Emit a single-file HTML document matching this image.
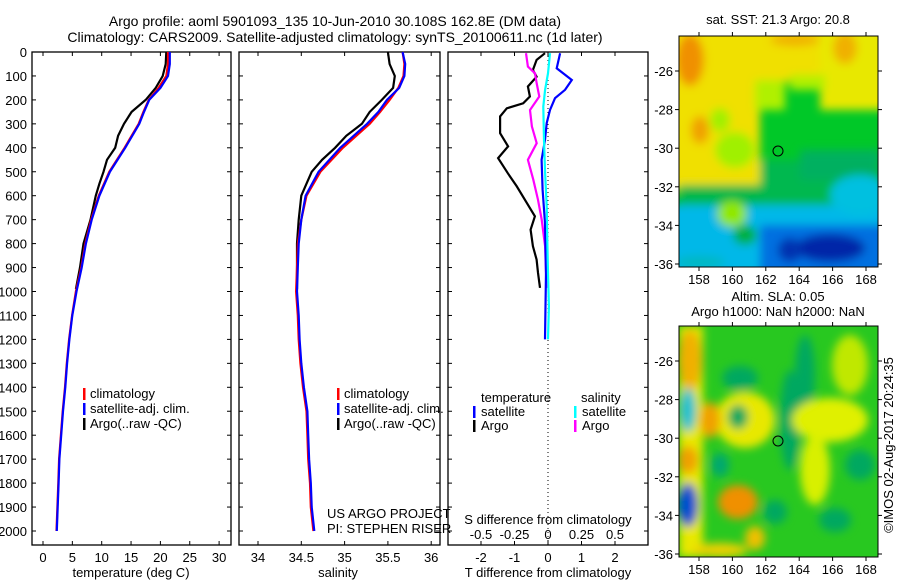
<!DOCTYPE html>
<html><head><meta charset="utf-8"><style>
html,body{margin:0;padding:0;background:#fff;}
svg{display:block;font-family:"Liberation Sans",sans-serif;}
text{fill:#000;}
</style></head><body>
<svg id="fig" width="900" height="580" viewBox="0 0 900 580">
<defs>
<filter id="bl" x="-20%" y="-20%" width="140%" height="140%"><feGaussianBlur stdDeviation="4.5"/></filter>
<clipPath id="c1"><rect x="679" y="36" width="199" height="231"/></clipPath>
<clipPath id="c2"><rect x="679" y="326" width="199" height="231"/></clipPath>
</defs>
<text x="335" y="26" font-size="14" text-anchor="middle">Argo profile: aoml 5901093_135 10-Jun-2010 30.108S 162.8E (DM data)</text>
<text x="335" y="42" font-size="14" text-anchor="middle">Climatology: CARS2009. Satellite-adjusted climatology: synTS_20100611.nc (1d later)</text>

<g id="p1"></g>
<g id="p2"></g>
<g id="p3"></g>

<g>
<g clip-path="url(#c1)">
<rect x="679" y="36" width="199" height="231" fill="#00c828"/>
<g filter="url(#bl)">
<rect x="660" y="20" width="240" height="62" fill="#f0e000"/>
<rect x="820" y="20" width="80" height="90" fill="#e8e800"/>
<rect x="660" y="20" width="100" height="170" fill="#f0e000"/>
<rect x="755" y="80" width="30" height="30" fill="#b0f000"/>
<rect x="790" y="75" width="35" height="15" fill="#b0f000"/>
<ellipse cx="690" cy="60" rx="14" ry="26" fill="#f09000"/>
<ellipse cx="845" cy="48" rx="12" ry="16" fill="#f0b000"/>
<ellipse cx="700" cy="130" rx="9" ry="14" fill="#f0a000"/>
<ellipse cx="795" cy="40" rx="25" ry="6" fill="#f0b000"/>
<ellipse cx="735" cy="150" rx="20" ry="18" fill="#a0f000"/>
<ellipse cx="720" cy="120" rx="10" ry="12" fill="#a0f000"/>
<rect x="679" y="185" width="100" height="25" fill="#00b848"/>
<rect x="760" y="160" width="120" height="50" fill="#00b850"/>
<rect x="800" y="150" width="80" height="30" fill="#00b060"/>
<rect x="660" y="205" width="240" height="80" fill="#00b8e8"/>
<ellipse cx="860" cy="195" rx="30" ry="20" fill="#00c0e0"/>
<ellipse cx="732" cy="214" rx="15" ry="13" fill="#90e800"/>
<ellipse cx="745" cy="235" rx="12" ry="10" fill="#00b040"/>
<rect x="760" y="225" width="140" height="60" fill="#0070e0"/>
<ellipse cx="830" cy="248" rx="35" ry="14" fill="#0028a8"/>
<ellipse cx="790" cy="250" rx="12" ry="12" fill="#0030b0"/>
<ellipse cx="700" cy="262" rx="25" ry="6" fill="#00b8c0"/>
</g>
</g>
<rect x="679" y="36" width="199" height="231" fill="none" stroke="#000" stroke-width="1"/>
<circle cx="778" cy="151" r="5" fill="none" stroke="#000"/>
</g>

<g>
<g clip-path="url(#c2)">
<rect x="679" y="326" width="199" height="231" fill="#28c820"/>
<g filter="url(#bl)">
<rect x="679" y="326" width="24" height="231" fill="#e8e800"/>
<ellipse cx="690" cy="360" rx="12" ry="30" fill="#f0b000"/>
<ellipse cx="740" cy="378" rx="18" ry="12" fill="#00a860"/>
<ellipse cx="805" cy="375" rx="10" ry="40" fill="#00a860"/>
<ellipse cx="850" cy="365" rx="18" ry="30" fill="#c0e800"/>
<ellipse cx="688" cy="410" rx="8" ry="22" fill="#00c0d0"/>
<ellipse cx="745" cy="420" rx="30" ry="28" fill="#e8e800"/>
<ellipse cx="710" cy="420" rx="10" ry="18" fill="#f0a000"/>
<ellipse cx="738" cy="417" rx="10" ry="12" fill="#00a860"/>
<ellipse cx="790" cy="420" rx="10" ry="50" fill="#00a860"/>
<ellipse cx="830" cy="420" rx="38" ry="22" fill="#e0f000"/>
<ellipse cx="815" cy="470" rx="15" ry="35" fill="#d8f000"/>
<ellipse cx="688" cy="460" rx="10" ry="14" fill="#f0a000"/>
<ellipse cx="720" cy="465" rx="9" ry="12" fill="#00a870"/>
<ellipse cx="860" cy="465" rx="15" ry="15" fill="#00a860"/>
<ellipse cx="688" cy="505" rx="10" ry="22" fill="#0050d0"/>
<ellipse cx="738" cy="502" rx="20" ry="17" fill="#f09000"/>
<ellipse cx="775" cy="512" rx="12" ry="12" fill="#00a860"/>
<ellipse cx="755" cy="538" rx="10" ry="12" fill="#f0c000"/>
<ellipse cx="835" cy="520" rx="16" ry="12" fill="#00a860"/>
<ellipse cx="720" cy="550" rx="28" ry="7" fill="#f0d000"/>
</g>
</g>
<rect x="679" y="326" width="199" height="231" fill="none" stroke="#000" stroke-width="1"/>
<circle cx="778" cy="441" r="5" fill="none" stroke="#000"/>
</g>

<text x="778" y="24" font-size="13" text-anchor="middle">sat. SST: 21.3 Argo: 20.8</text>
<text x="778" y="301" font-size="13" text-anchor="middle">Altim. SLA: 0.05</text>
<text x="778" y="316" font-size="13" text-anchor="middle">Argo h1000: NaN h2000: NaN</text>
<text transform="translate(893,445) rotate(-90)" font-size="13" text-anchor="middle">©IMOS 02-Aug-2017 20:24:35</text>
</svg>
<script>
// ---- data ----
var depthTicks=[0,100,200,300,400,500,600,700,800,900,1000,1100,1200,1300,1400,1500,1600,1700,1800,1900,2000];
var tempTicks=[0,5,10,15,20,25,30];
var salTicks=[34,34.5,35,35.5,36];
var tdiffTicks=[-2,-1,0,1,2];
var sdiffTicks=[-0.5,-0.25,0,0.25,0.5];
var sdiffLabels=["-0.5","-0.25","0","0.25","0.5"];
var mapLatTicks=[-26,-28,-30,-32,-34,-36];
var mapLonTicks=[158,160,162,164,166,168];

var satDepth=[0,50,100,150,200,250,300,400,500,600,700,800,900,1000,1100,1200,1300,1400,1500,1600,1700,1800,1900,2000];
var satTemp=[21.6,21.6,21.3,20.0,18.1,17.2,16.4,14.0,11.4,9.6,8.3,7.3,6.6,5.7,5.0,4.5,4.1,3.8,3.4,3.1,2.8,2.65,2.5,2.35];
var climTemp=[21.3,21.3,21.0,19.7,18.0,17.1,16.3,13.9,11.3,9.5,8.2,7.2,6.5,5.6,4.95,4.45,4.05,3.75,3.35,3.05,2.75,2.6,2.45,2.3];
var argoDepth=[0,50,100,150,200,250,300,350,400,450,500,550,600,700,800,900,990];
var argoTemp=[21.0,20.9,20.4,19.2,17.5,15.1,13.8,12.8,12.3,10.9,10.3,9.6,9.0,8.1,6.9,6.3,5.6];

var satSal=[35.67,35.70,35.69,35.63,35.49,35.39,35.26,34.95,34.70,34.55,34.50,34.47,34.46,34.45,34.47,34.48,34.50,34.53,34.57,34.58,34.59,34.61,34.62,34.65];
var climSal=[35.67,35.69,35.68,35.62,35.52,35.41,35.29,34.98,34.72,34.56,34.50,34.46,34.45,34.44,34.46,34.47,34.49,34.52,34.56,34.57,34.58,34.60,34.61,34.64];
var argoSal=[35.50,35.52,35.58,35.56,35.43,35.29,35.20,35.02,34.89,34.74,34.62,34.56,34.50,34.47,34.45,34.45,34.45];

var tdArgoDepth=[5,33,75,103,144,186,214,235,269,339,394,443,506,561,631,686,742,811,867,922,985];
var tdArgo=[-0.09,-0.34,-0.45,-0.34,-0.6,-0.54,-0.74,-1.23,-1.43,-1.43,-1.19,-1.49,-1.2,-0.93,-0.63,-0.39,-0.52,-0.45,-0.34,-0.3,-0.24];
var tdSatDepth=[5,68,89,117,158,193,242,297,367,450,575,714,922,1200];
var tdSat=[0.36,0.26,0.45,0.71,0.51,0.21,0.06,-0.04,-0.09,-0.19,-0.16,-0.09,-0.06,-0.09];
var sdArgoDepth=[5,61,89,131,186,242,311,381,450,533,617,700,811,922,985];
var sdArgo=[-0.164,-0.15,-0.097,-0.084,-0.065,-0.134,-0.12,-0.084,-0.15,-0.11,-0.075,-0.047,-0.022,-0.015,-0.01];
var sdSatDepth=[5,89,158,228,367,506,644,783,922,1061,1200];
var sdSat=[0.015,0,-0.022,-0.035,-0.03,-0.022,-0.01,-0.005,0,0.007,0];

// ---- axes ----
var NS="http://www.w3.org/2000/svg";
var TOP=52,BOT=545;
function yD(d){return TOP+d*0.2395;}
function xT(t){return 43+t*5.87;}
function xS(s){return 258+(s-34)*86.6;}
function xTD(t){return 548+t*33.5;}
function xSD(s){return 548+s*134;}
function el(tag,attrs,parent){var e=document.createElementNS(NS,tag);for(var k in attrs)e.setAttribute(k,attrs[k]);parent.appendChild(e);return e;}
function txt(parent,x,y,s,anchor,size){var t=el('text',{x:x,y:y,'font-size':size||13,'text-anchor':anchor||'middle'},parent);t.textContent=s;return t;}
function line(parent,xs,ys,color,w,dash){var p='';for(var i=0;i<xs.length;i++)p+=(i?'L':'M')+xs[i].toFixed(1)+' '+ys[i].toFixed(1);var a={d:p,fill:'none',stroke:color,'stroke-width':w||2};if(dash)a['stroke-dasharray']=dash;return el('path',a,parent);}
function box(parent,x0,x1){el('rect',{x:x0,y:TOP,width:x1-x0,height:BOT-TOP,fill:'none',stroke:'#000','stroke-width':1.3},parent);
 depthTicks.forEach(function(d){var y=yD(d);el('line',{x1:x0,x2:x0+4,y1:y,y2:y,stroke:'#000'},parent);el('line',{x1:x1-4,x2:x1,y1:y,y2:y,stroke:'#000'},parent);});}
function xticks(parent,xs){xs.forEach(function(x){el('line',{x1:x,x2:x,y1:TOP,y2:TOP+4,stroke:'#000'},parent);el('line',{x1:x,x2:x,y1:BOT-4,y2:BOT,stroke:'#000'},parent);});}
function legend(parent,x,items){items.forEach(function(it,i){var y=398+i*15;
 var b=el('rect',{x:x,y:y-10,width:2.5,height:12,fill:it[0]},parent);
 
 
 txt(parent,x+7,y,it[1],'start',13);});}

// panel 1
var p1=document.getElementById('p1');
box(p1,32,231);
xticks(p1,tempTicks.map(xT));
depthTicks.forEach(function(d){var t=txt(p1,27,yD(d)+5,String(d),'end',13);});
tempTicks.forEach(function(t){var e=txt(p1,xT(t),562,String(t),'middle',13);});
var xl1=txt(p1,131,577,'temperature (deg C)','middle',13);
var a1=line(p1,argoTemp.map(xT),argoDepth.map(yD),'#000',2.2);
var c1=line(p1,climTemp.map(xT),satDepth.map(yD),'#f00',2.2);
var s1=line(p1,satTemp.map(xT),satDepth.map(yD),'#00f',2.2);
legend(p1,83,[['#f00','climatology'],['#00f','satellite-adj. clim.'],['#000','Argo(..raw -QC)']]);

// panel 2
var p2=document.getElementById('p2');
box(p2,239,440);
xticks(p2,salTicks.map(xS));
salTicks.forEach(function(s){var e=txt(p2,xS(s),562,String(s),'middle',13);});
var xl2=txt(p2,338,577,'salinity','middle',13);
var a2=line(p2,argoSal.map(xS),argoDepth.map(yD),'#000',2.2);
var c2=line(p2,climSal.map(xS),satDepth.map(yD),'#f00',2.2);
var s2=line(p2,satSal.map(xS),satDepth.map(yD),'#00f',2.2);
legend(p2,337,[['#f00','climatology'],['#00f','satellite-adj. clim.'],['#000','Argo(..raw -QC)']]);
var pr1=txt(p2,327,518,'US ARGO PROJECT','start',13);
var pr2=txt(p2,327,533,'PI: STEPHEN RISER','start',13);

// panel 3
var p3=document.getElementById('p3');
box(p3,448,648);
xticks(p3,tdiffTicks.map(xTD));
var z=el('line',{x1:548,x2:548,y1:TOP,y2:BOT,stroke:'#000','stroke-dasharray':'1 3'},p3);

var l1=line(p3,tdArgo.map(xTD),tdArgoDepth.map(yD),'#000',2.2);
var l2=line(p3,sdArgo.map(xSD),sdArgoDepth.map(yD),'#f0f',2.2);
var l3=line(p3,tdSat.map(xTD),tdSatDepth.map(yD),'#00f',2.2);
var l4=line(p3,sdSat.map(xSD),sdSatDepth.map(yD),'#0ff',2.2);
txt(p3,481,402,'temperature','start',13);
txt(p3,581,402,'salinity','start',13);
var lg=[['#00f',473,'satellite',416],['#000',473,'Argo',430],['#0ff',574,'satellite',416],['#f0f',574,'Argo',430]];
lg.forEach(function(it){var b=el('rect',{x:it[1],y:it[3]-10,width:2.5,height:12,fill:it[0]},p3);
 
 
 txt(p3,it[1]+8,it[3],it[2],'start',13);});
var sdt=txt(p3,548,524,'S difference from climatology','middle',13);
sdiffTicks.forEach(function(s,i){var e=txt(p3,xSD(s),539,sdiffLabels[i],'middle',13);});
tdiffTicks.forEach(function(t){var e=txt(p3,xTD(t),562,String(t),'middle',13);});
var tdt=txt(p3,548,577,'T difference from climatology','middle',13);

// maps axes
var fig=document.getElementById('fig');
function lonX(l){return 699+(l-158)*16.7;}
[[36,267,71,264,284],[326,557,361,554,574]].forEach(function(m,mi){
 var g=el('g',{},fig);
 
 
 var latY=function(la){return m[2]+(-26-la)*(m[3]-m[2])/10;};
 mapLatTicks.forEach(function(la){var y=latY(la);
  el('line',{x1:675,x2:679,y1:y,y2:y,stroke:'#000'},g);el('line',{x1:878,x2:882,y1:y,y2:y,stroke:'#000'},g);
  txt(g,673,y+5,String(la),'end',13);});
 mapLonTicks.forEach(function(lo){var x=lonX(lo);
  el('line',{x1:x,x2:x,y1:m[0]-4,y2:m[0],stroke:'#000'},g);el('line',{x1:x,x2:x,y1:m[1],y2:m[1]+4,stroke:'#000'},g);
  txt(g,x,m[4],String(lo),'middle',13);});
});
</script>
</body></html>
